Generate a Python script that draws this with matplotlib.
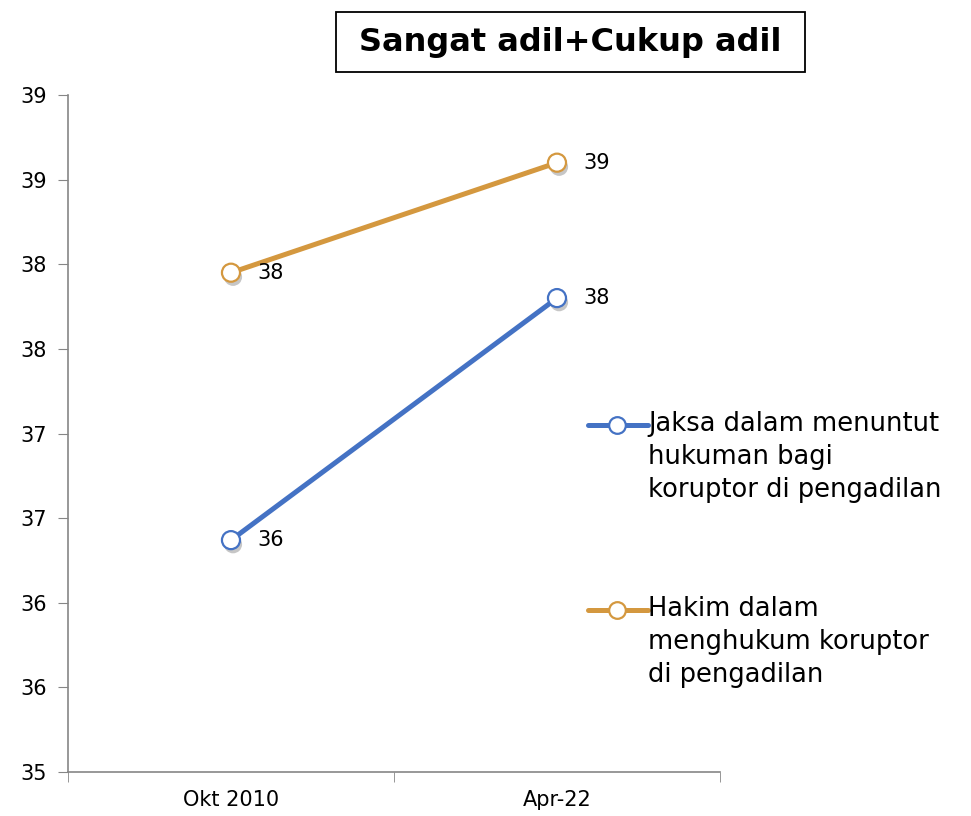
import matplotlib
matplotlib.use("Agg")
import matplotlib.pyplot as plt
import matplotlib.patheffects as pe
from matplotlib.ticker import FixedLocator, FixedFormatter
from matplotlib.lines import Line2D
from matplotlib.patches import Rectangle

categories = ["Okt 2010", "Apr-22"]
jaksa = [36.37, 37.80]
hakim = [37.95, 38.60]
jaksa_labels = ["36", "38"]
hakim_labels = ["38", "39"]
ytick_values = [35, 35.5, 36, 36.5, 37, 37.5, 38, 38.5, 39]
ytick_labels = ["35", "36", "36", "37", "37", "38", "38", "39", "39"]
series_names = ["Jaksa dalam menuntut\nhukuman bagi\nkoruptor di pengadilan",
                "Hakim dalam\nmenghukum koruptor\ndi pengadilan"]
title = "Sangat adil+Cukup adil"

plt.rcParams['font.family'] = ['DejaVu Sans']

W, H = 971, 816
fig = plt.figure(figsize=(9.71, 8.16), dpi=100)
ax = fig.add_axes([0.070, 0.0539, 0.6715, 0.8297])

blue = "#4472C4"
orange = "#D4983F"
colors = [blue, orange]
x = list(range(len(categories)))
mshadow = [pe.SimplePatchShadow(offset=(1.5, -3), shadow_rgbFace="#444444", alpha=0.3), pe.Normal()]

for vals, labs, c in [(jaksa, jaksa_labels, blue), (hakim, hakim_labels, orange)]:
    ax.plot(x, vals, color=c, lw=3.6, zorder=3, solid_capstyle='butt')
    ax.plot(x, vals, ls='none', marker='o', ms=13, mfc='white', mec=c, mew=1.6,
            zorder=4, path_effects=mshadow)
    for xi, v, t in zip(x, vals, labs):
        ax.annotate(t, (xi, v), xytext=(19, 0), textcoords='offset points',
                    va='center', ha='left', fontsize=15)

ax.set_xlim(-0.5, 1.5)
ax.set_ylim(35, 39)
ax.set_xticks(x)
ax.set_xticklabels(categories, fontsize=15)
ax.xaxis.set_minor_locator(FixedLocator([-0.5, 0.5, 1.5]))
ax.tick_params(axis='x', which='major', length=0, pad=13)
ax.tick_params(axis='x', which='minor', length=7, color="#868686", direction='out')
ax.yaxis.set_major_locator(FixedLocator(ytick_values))
ax.yaxis.set_major_formatter(FixedFormatter(ytick_labels))
ax.tick_params(axis='y', length=7, color="#868686", labelsize=15, pad=8)
for s in ['top', 'right']:
    ax.spines[s].set_visible(False)
for s in ['left', 'bottom']:
    ax.spines[s].set_color("#868686")
    ax.spines[s].set_linewidth(1.2)

# manual legend (handle aligned with first text line)
leg_y = [425, 610]
for name, c, yy in zip(series_names, colors, leg_y):
    fy = 1 - yy / H
    fig.add_artist(Line2D([588 / W, 648 / W], [fy, fy], color=c, lw=3.6,
                          transform=fig.transFigure, solid_capstyle='round'))
    fig.add_artist(Line2D([617 / W], [fy], ls='none', marker='o', ms=12, mfc='white',
                          mec=c, mew=1.6, transform=fig.transFigure))
    fig.text(648 / W, fy + 14 / H, name, ha='left', va='top', fontsize=18.5,
             linespacing=1.34)

fig.add_artist(Rectangle((336 / W, 1 - 72 / H), 469 / W, 60 / H, transform=fig.transFigure,
                         fc='white', ec='black', lw=1.3))
fig.text(570 / W, 1 - 42 / H, title, ha='center', va='center', fontsize=23, fontweight='bold')

fig.savefig("out.png", dpi=100)
